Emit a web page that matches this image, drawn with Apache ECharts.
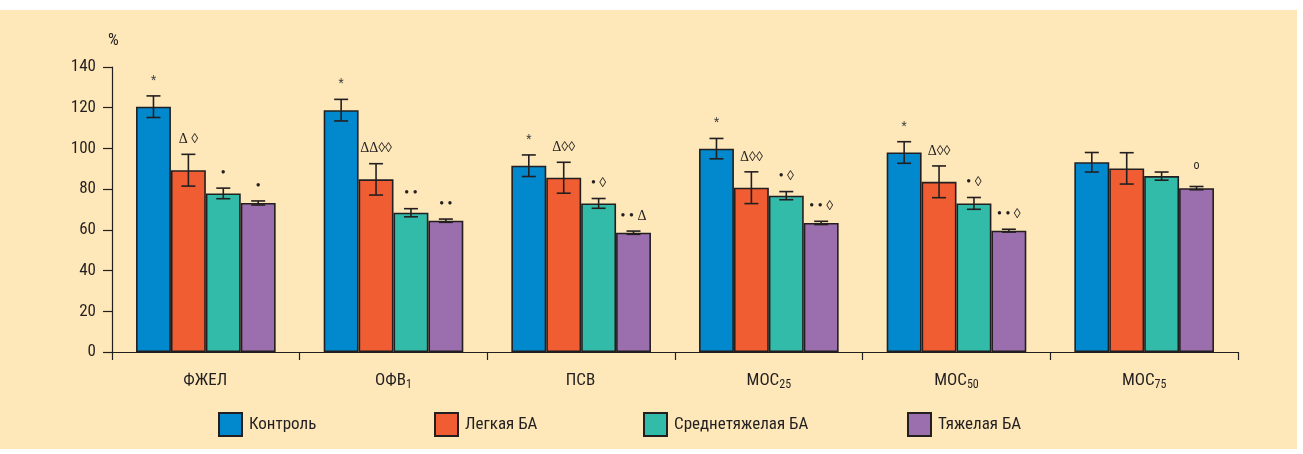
<!DOCTYPE html>
<html>
<head>
<meta charset="utf-8">
<script src="https://cdn.jsdelivr.net/npm/echarts@6/dist/echarts.min.js"></script>
<style>
html,body{margin:0;padding:0;background:#ffffff;}
#chart{width:1303px;height:454px;}
</style>
</head>
<body>
<div id="chart"></div>
<script>
// ---- data ----
const catMain = ['ФЖЕЛ', 'ОФВ', 'ПСВ', 'МОС', 'МОС', 'МОС'];
const catSub  = ['', '1', '', '25', '50', '75'];
const seriesNames = ['Контроль', 'Легкая БА', 'Среднетяжелая БА', 'Тяжелая БА'];

const control     = [120.5, 118.8, 91.5, 99.9, 98.0, 93.2];
const controlErr  = [5.3, 5.3, 5.3, 5.0, 5.3, 4.8];
const mild        = [89.3, 84.8, 85.6, 80.7, 83.6, 90.2];
const mildErr     = [7.8, 7.7, 7.6, 7.8, 7.8, 7.7];
const moderate    = [77.9, 68.4, 73.0, 76.8, 73.0, 86.4];
const moderateErr = [2.6, 2.0, 2.4, 2.0, 2.9, 2.0];
const severe      = [73.2, 64.5, 58.6, 63.4, 59.6, 80.5];
const severeErr   = [1.0, 0.8, 0.8, 0.8, 0.7, 0.8];

const controlMarks  = ['*', '*', '*', '*', '*', ''];
const mildMarks     = ['Δ ◊', 'ΔΔ◊◊', 'Δ◊◊', 'Δ◊◊', 'Δ◊◊', ''];
const moderateMarks = ['•', '• •', '• ◊', '• ◊', '• ◊', ''];
const severeMarks   = ['•', '• •', '• • Δ', '• • ◊', '• • ◊', 'о'];

const yTicks = [0, 20, 40, 60, 80, 100, 120, 140];

// ---- styles ----
const colors = ['#0288CD', '#F15D33', '#33BBA9', '#9B6FAE'];
const ink = '#231F20';
const FONT = '"Roboto Condensed", "Liberation Sans", Arial, sans-serif';
const SERIF = '"Liberation Serif", "DejaVu Serif", serif';
const BAR_FRAC = 0.186;

const values = [control, mild, moderate, severe];
const errs = [controlErr, mildErr, moderateErr, severeErr];
const marks = [controlMarks, mildMarks, moderateMarks, severeMarks];

const errData = [];
const errMarks = [];
for (let s = 0; s < 4; s++) {
  for (let c = 0; c < catMain.length; c++) {
    errData.push([c, s, values[s][c], errs[s][c]]);
    errMarks.push(marks[s][c]);
  }
}

const chart = echarts.init(document.getElementById('chart'), null, {renderer: 'canvas'});

const barSeries = seriesNames.map((n, i) => ({
  name: n,
  type: 'bar',
  data: values[i],
  barWidth: (BAR_FRAC * 100) + '%',
  barGap: '0%',
  itemStyle: {color: colors[i], borderColor: ink, borderWidth: 1.6},
  emphasis: {disabled: true},
  z: 2
}));

const legendLefts = [218, 434, 643, 907];

const option = {
  animation: false,
  backgroundColor: '#ffffff',
  graphic: [{
    type: 'rect', z: -10, silent: true,
    shape: {x: 0, y: 10, width: 1297, height: 439},
    style: {fill: '#FEE8B9'}
  }],
  grid: {left: 112, right: 65, top: 67, bottom: 102, containLabel: false},
  legend: seriesNames.map((n, i) => ({
    data: [n],
    left: legendLefts[i],
    top: 412,
    itemWidth: 23,
    itemHeight: 23,
    icon: 'rect',
    selectedMode: false,
    padding: 0,
    textStyle: {fontFamily: FONT, fontSize: 17, color: ink, padding: [0, 0, 0, 2]}
  })),
  xAxis: {
    type: 'category',
    data: catMain.map((m, i) => i),
    axisLine: {lineStyle: {color: ink, width: 1.2}},
    axisTick: {show: true, length: 8, interval: 0, lineStyle: {color: ink, width: 1.2}},
    axisLabel: {
      interval: 0,
      margin: 20,
      formatter: (v, i) => '{a|' + catMain[i] + '}{s|' + (catSub[i] || '\u200a') + '}',
      rich: {
        a: {fontFamily: FONT, fontSize: 17, color: ink, lineHeight: 18, verticalAlign: 'top'},
        s: {fontFamily: FONT, fontSize: 12, color: ink, lineHeight: 19, verticalAlign: 'bottom'}
      }
    },
    splitLine: {show: false}
  },
  yAxis: {
    type: 'value',
    min: 0, max: 140, interval: 20,
    name: '%',
    nameLocation: 'end',
    nameGap: 18,
    nameTextStyle: {fontFamily: FONT, fontSize: 17, color: ink, align: 'center', padding: [0, 0, 0, 3]},
    axisLine: {show: true, lineStyle: {color: ink, width: 1.2}},
    axisTick: {show: true, length: 9, lineStyle: {color: ink, width: 1.2}},
    axisLabel: {
      fontFamily: FONT, fontSize: 17, color: ink, margin: 16,
      formatter: v => yTicks.indexOf(v) >= 0 ? String(v) : ''
    },
    splitLine: {show: false}
  },
  series: barSeries.concat([{
    type: 'custom',
    name: 'err',
    z: 5,
    silent: true,
    encode: {x: 0, y: 2},
    data: errData,
    renderItem: function (params, api) {
      const c = api.value(0), s = api.value(1), v = api.value(2), e = api.value(3);
      const cw = api.size([1, 0])[0];
      const bw = cw * BAR_FRAC;
      const x = api.coord([c, 0])[0] + (s - 1.5) * bw;
      const yT = api.coord([c, v + e])[1];
      const yB = api.coord([c, v - e])[1];
      const hw = 7;
      const ls = {stroke: ink, lineWidth: 1.6};
      const children = [
        {type: 'line', shape: {x1: x, y1: yT, x2: x, y2: yB}, style: ls},
        {type: 'line', shape: {x1: x - hw, y1: yT, x2: x + hw, y2: yT}, style: ls},
        {type: 'line', shape: {x1: x - hw, y1: yB, x2: x + hw, y2: yB}, style: ls}
      ];
      const m = errMarks[params.dataIndex];
      if (m) {
        const isStar = m === '*';
        const isO = m === 'о';
        children.push({
          type: 'text',
          style: {
            x: x, y: yT - (isO ? 20 : 15),
            text: m,
            fill: isStar ? '#444' : ink,
            font: isStar ? ('12px ' + FONT) : (isO ? ('12px ' + FONT) : ('14px ' + SERIF)),
            textAlign: 'center',
            textVerticalAlign: 'middle'
          }
        });
      }
      return {type: 'group', children: children};
    }
  }])
};

chart.setOption(option);
</script>
</body>
</html>
